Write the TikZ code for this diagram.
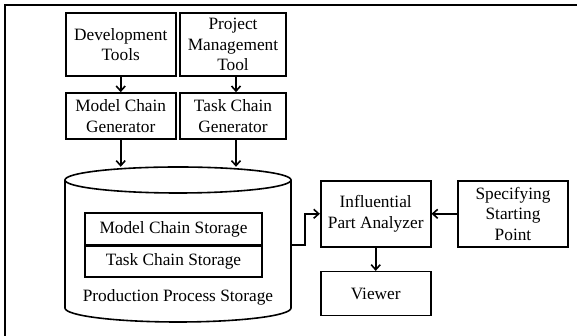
\documentclass[tikz,border=0pt]{standalone}
\usepackage{fontspec}
\setmainfont{Liberation Serif}
\usetikzlibrary{arrows.meta}
\begin{document}
\begin{tikzpicture}[x=1pt,y=1pt,
  every node/.style={font=\fontsize{17.3}{20.5}\selectfont, align=center, inner sep=0pt},
  blk/.style={draw, line width=1.6pt, rectangle},
  arr/.style={line width=1.6pt, -{Straight Barb[length=5pt,width=9pt,line width=1.6pt]}}]
\useasboundingbox (0,0) rectangle (577,336);
% frame
\draw[line width=2pt] (5,0) -- (5,331) -- (577,331);
% top boxes
\node[blk, minimum width=110pt, minimum height=63pt] (dev) at (120.7,291.3) {Development\\Tools};
\node[blk, minimum width=106pt, minimum height=63pt] (pm) at (233,291.5) {Project\\Management\\Tool};
\node[blk, minimum width=110pt, minimum height=46pt] (mcg) at (120.7,220) {Model Chain\\Generator};
\node[blk, minimum width=106pt, minimum height=46pt] (tcg) at (233,220) {Task Chain\\Generator};
% cylinder
\draw[line width=1.6pt] (65,156) -- (65,28) arc[start angle=180, end angle=360, x radius=113pt, y radius=14pt] -- (291,156);
\draw[line width=1.6pt] (178,156) ellipse[x radius=113pt, y radius=13pt];
\node[minimum width=226pt, minimum height=156pt] (pps) at (178,91) {};
\node[blk, minimum width=177pt, minimum height=32pt] (mcs) at (173.5,107) {Model Chain Storage};
\node[blk, minimum width=177pt, minimum height=31pt] (tcs) at (173.5,74.5) {Task Chain Storage};
\node (ppst) at (178,39) {Production Process Storage};
% right side
\node[blk, minimum width=110pt, minimum height=66pt] (ipa) at (375.7,122.2) {Influential\\Part Analyzer};
\node[blk, minimum width=110pt, minimum height=66pt] (ssp) at (513,122.2) {Specifying\\Starting\\Point};
\node[blk, minimum width=110pt, minimum height=44pt] (vw) at (375.7,42.3) {Viewer};
% connectors
\draw[arr] (dev.south) -- (mcg.north);
\draw[arr] ([xshift=3pt]pm.south) -- ([xshift=3pt]tcg.north);
\draw[arr] (mcg.south) -- (mcg.south |- pps.north);
\draw[arr] ([xshift=3pt]tcg.south) -- ([xshift=3pt]tcg.south |- pps.north);
\draw[arr] (pps.east) -- ++(14,0) |- (ipa.west);
\draw[arr] (ssp.west) -- (ipa.east);
\draw[arr] (ipa.south) -- (vw.north);
\end{tikzpicture}
\end{document}
